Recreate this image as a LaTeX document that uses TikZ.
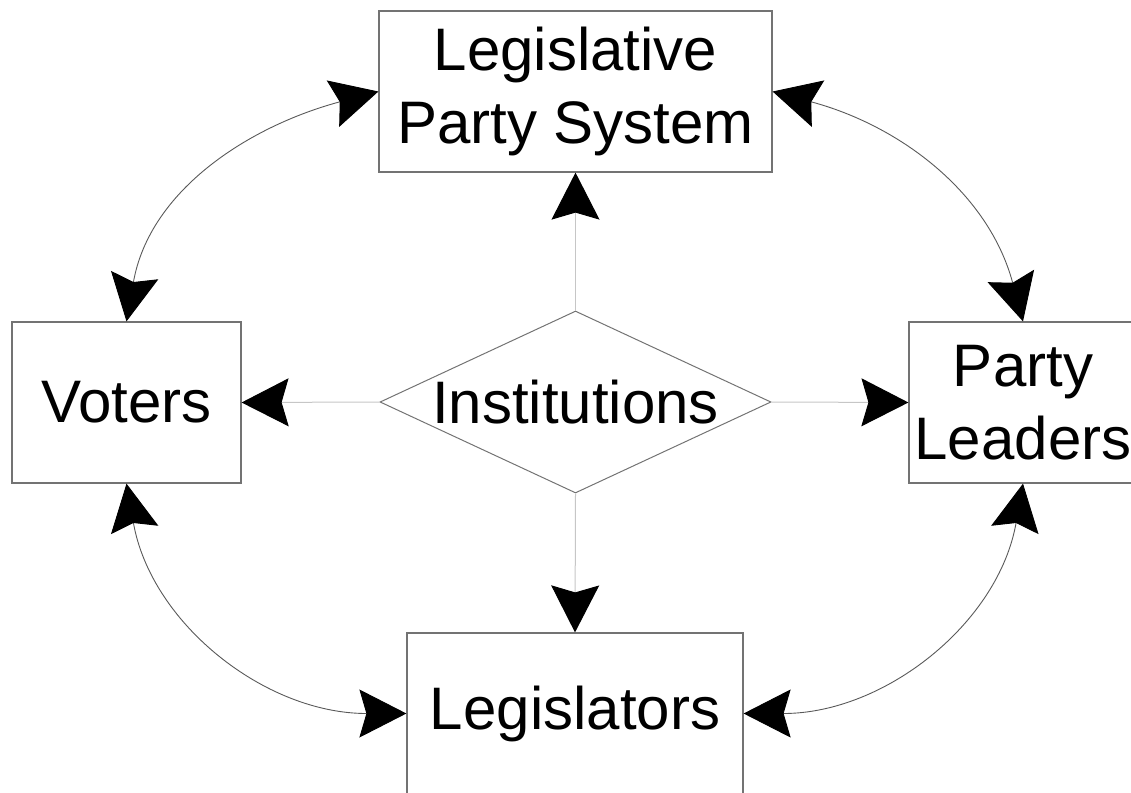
\documentclass[tikz,border=0pt]{standalone}
\usepackage{fontspec}
\setmainfont{Liberation Sans}
\usetikzlibrary{arrows.meta,shapes.geometric}

\begin{document}
\begin{tikzpicture}[x=1pt, y=-1pt,
    box/.style={draw=gray!90!black, line width=1.2pt, rectangle, inner sep=0pt,
      align=center, font=\fontsize{60}{73}\selectfont},
    link/.style={draw=gray!45, line width=1pt,
      -{Stealth[length=47pt, width=48pt, inset=7pt, black]}},
    swap/.style={draw=gray!70!black, line width=0.9pt,
      {Stealth[length=47pt, width=48pt, inset=7pt, black]}-{Stealth[length=47pt, width=48pt, inset=7pt, black]}}]
  \useasboundingbox (0,0) rectangle (1131,792);

  % Boxes
  \node[box, minimum width=393pt, minimum height=161pt] (lps) at (575.5,91.5) {Legislative\\Party System};
  \node[box, minimum width=229pt, minimum height=161pt] (voters) at (126.5,402.5) {Voters};
  \node[box, minimum width=228pt, minimum height=161pt] (leaders) at (1023,402.5) {Party\\Leaders};
  \node[box, minimum width=336pt, minimum height=161pt] (legis) at (575,713.5) {Legislators};

  % Centre
  \node[diamond, draw=gray!90!black, line width=1pt, inner sep=0pt, aspect=2.15,
    minimum width=391pt, minimum height=182pt, font=\fontsize{60}{73}\selectfont]
    (inst) at (575.5,402) {\makebox[0pt]{Institutions}};

  % Straight links
  \draw[link] (inst.north) -- (lps.south);
  \draw[link] (inst.west) -- (voters.east);
  \draw[link] (inst.east) -- (leaders.west);
  \draw[link] (inst.south) -- (legis.north);

  % Curved links
  \draw[swap] (voters.north) to[out=80, in=195] (lps.west);
  \draw[swap] (lps.east) to[out=-15, in=105] (leaders.north);
  \draw[swap] (voters.south) to[out=-80, in=180] (legis.west);
  \draw[swap] (leaders.south) to[out=-100, in=0] (legis.east);
\end{tikzpicture}
\end{document}
